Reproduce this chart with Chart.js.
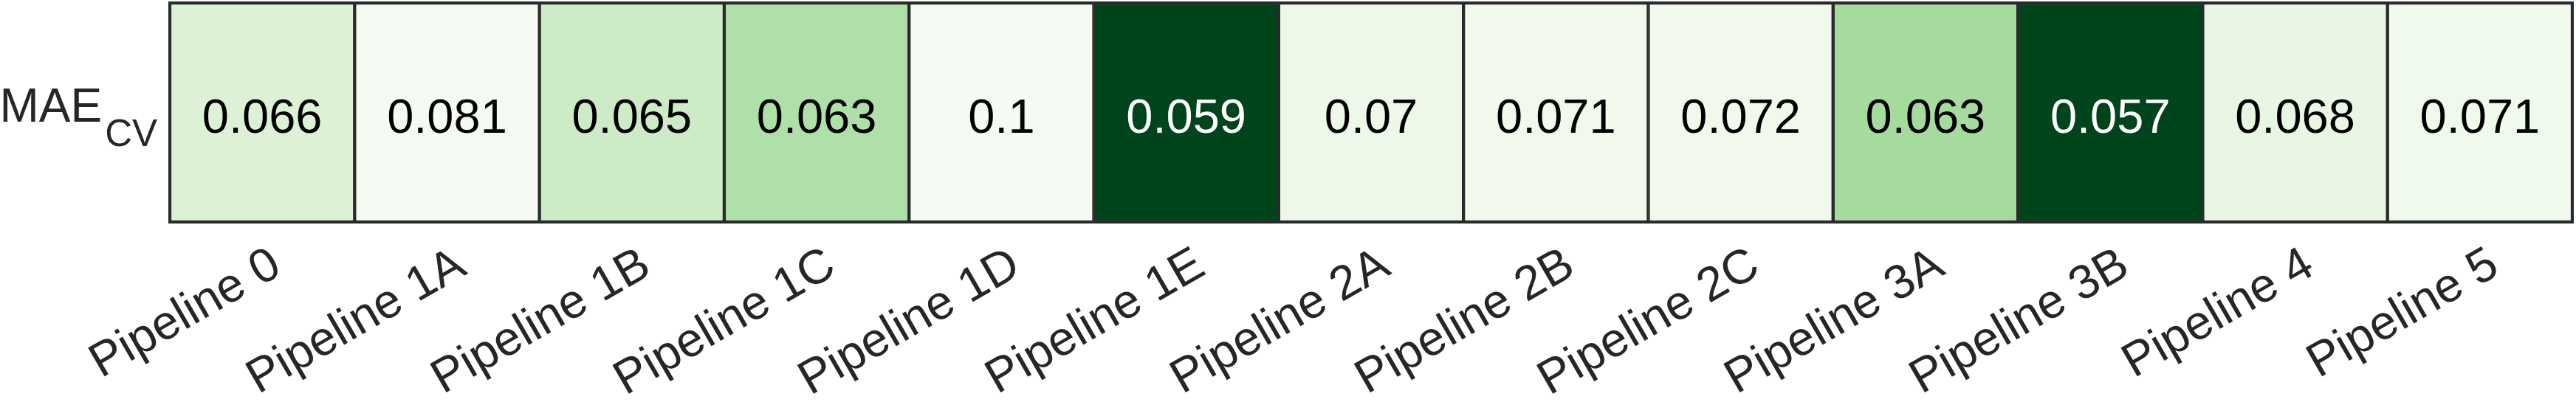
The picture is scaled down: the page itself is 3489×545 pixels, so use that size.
<!DOCTYPE html>
<html>
<head>
<meta charset="utf-8">
<script src="https://cdn.jsdelivr.net/npm/chart.js@4.4.1/dist/chart.umd.min.js"></script>
<style>
  html, body { margin: 0; padding: 0; background: #ffffff; }
  canvas { display: block; }
</style>
</head>
<body>
<canvas id="c" width="3489" height="545"></canvas>
<script>
// ---- data ----
const pipelines = ['Pipeline 0', 'Pipeline 1A', 'Pipeline 1B', 'Pipeline 1C', 'Pipeline 1D', 'Pipeline 1E',
                   'Pipeline 2A', 'Pipeline 2B', 'Pipeline 2C', 'Pipeline 3A', 'Pipeline 3B', 'Pipeline 4', 'Pipeline 5'];
const maeCV = [0.066, 0.081, 0.065, 0.063, 0.1, 0.059, 0.07, 0.071, 0.072, 0.063, 0.057, 0.068, 0.071];
const rowLabel = 'MAE';
const rowLabelSub = 'CV';
const rowSpan = [0, 1];

// ---- style ----
const cellColors = ['#ddf1d7', '#f5fbf2', '#cdebc6', '#b0e0a9', '#f5fbf2', '#00441c', '#edf8e9',
                    '#f0f9ec', '#f1f9ed', '#a5dc9e', '#00441c', '#e8f6e3', '#eff9ec'];
const FONT = '"Liberation Sans", Arial, Helvetica, sans-serif';
const edgeColor = '#2a2a2a';

function isDark(hex) {
  const r = parseInt(hex.slice(1, 3), 16), g = parseInt(hex.slice(3, 5), 16), b = parseInt(hex.slice(5, 7), 16);
  return (0.299 * r + 0.587 * g + 0.114 * b) < 110;
}

const heatDecor = {
  id: 'heatDecor',
  afterDatasetsDraw(chart) {
    const ctx = chart.ctx;
    const meta = chart.getDatasetMeta(0);
    const a = chart.chartArea;
    ctx.save();
    // cell values
    ctx.font = '65px ' + FONT;
    ctx.textAlign = 'center';
    ctx.textBaseline = 'alphabetic';
    meta.data.forEach((bar, i) => {
      const cy = (bar.y + bar.base) / 2;
      ctx.fillStyle = isDark(cellColors[i]) ? '#ffffff' : '#000000';
      ctx.fillText(String(maeCV[i]), bar.x, cy + 27);
    });
    // frame
    ctx.strokeStyle = edgeColor;
    ctx.lineWidth = 4;
    ctx.strokeRect(a.left, a.top, a.right - a.left, a.bottom - a.top);
    // row label with subscript
    const cy = (a.top + a.bottom) / 2;
    ctx.fillStyle = '#262626';
    ctx.textAlign = 'right';
    ctx.font = '51px ' + FONT;
    const subRight = a.left - 17;
    ctx.fillText(rowLabelSub, subRight, cy + 45);
    const subW = ctx.measureText(rowLabelSub).width;
    ctx.font = '64px ' + FONT;
    ctx.fillText(rowLabel, subRight - subW - 4, cy + 12);
    ctx.restore();
  }
};

new Chart(document.getElementById('c'), {
  type: 'bar',
  data: {
    labels: pipelines,
    datasets: [{
      data: pipelines.map(() => rowSpan),
      backgroundColor: cellColors,
      borderColor: edgeColor,
      borderWidth: 2.5,
      borderSkipped: false,
      barPercentage: 1,
      categoryPercentage: 1
    }]
  },
  options: {
    responsive: false,
    animation: false,
    devicePixelRatio: 1,
    layout: { padding: { left: 230, right: 5, top: 4, bottom: 0 } },
    plugins: { legend: { display: false }, tooltip: { enabled: false } },
    scales: {
      x: {
        type: 'category',
        grid: { display: false, drawTicks: false },
        border: { display: false },
        ticks: {
          autoSkip: false,
          minRotation: 30,
          maxRotation: 30,
          padding: 20,
          labelOffset: 20,
          color: '#262626',
          font: { size: 65, family: FONT }
        },
        afterFit: (s) => { s.height = 244; }
      },
      y: {
        type: 'linear',
        min: 0,
        max: 1,
        display: false
      }
    }
  },
  plugins: [heatDecor]
});
</script>
</body>
</html>
